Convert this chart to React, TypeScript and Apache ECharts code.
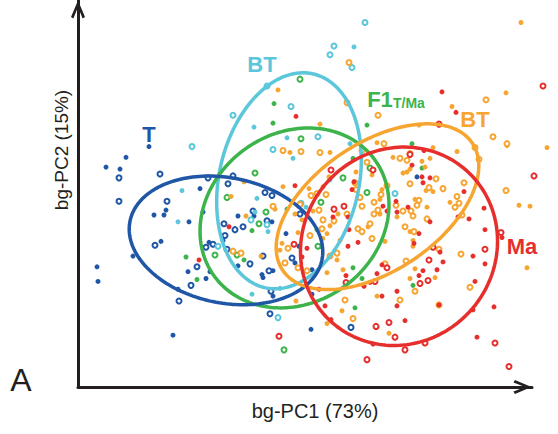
import React, { useEffect, useRef } from "react";
import * as echarts from "echarts";

// bg-PC scores (x = bg-PC1, y = bg-PC2)
const T_FILLED = [
  [-1.51, 1.09], [-1.74, 0.98], [-1.94, 0.88], [-1.8, 0.86], [-1.0, 0.66], [-1.34, 0.44], [-1.46, 0.39],
  [-1.36, 0.39], [-0.97, 0.42], [-1.11, 0.32], [-0.77, 0.13], [-1.39, 0.12], [-0.91, 0.11], [-1.67, -0.03],
  [-2.03, -0.14], [-1.12, -0.19], [-0.9, -0.19], [-2.02, -0.29], [-0.94, -0.26], [-1.22, -0.37], [-1.27, -0.84],
  [-0.37, -0.25], [-0.38, -0.22], [-0.27, -0.44], [0.12, -0.42], [0.11, -0.78], [1.17, 0.78], [-0.62, 0.38],
  [-0.46, 0.38], [-0.28, 0.32], [-0.14, 0.2], [-0.01, 0.07], [0.2, 0.07], [-0.62, -0.13], [-0.05, -0.1],
  [-0.27, -0.18], [0.12, -0.17],
];
const T_OPEN = [
  [-1.81, 0.77], [-1.4, 0.81], [-0.92, 0.77], [-0.72, 0.71], [-1.81, 0.53], [-1.33, 0.53], [-0.76, 0.3],
  [-0.75, 0.18], [-1.45, 0.08], [-0.87, 0.09], [-0.94, 0.06], [-0.73, 0.04], [-1.03, -0.14], [-1.09, -0.33],
  [-1.21, -0.49], [-0.29, -0.39], [-0.3, -0.62], [0.51, -0.76], [-0.67, 0.79], [-0.35, 0.62], [-0.28, 0.59],
  [-0.47, 0.43], [-0.33, 0.33], [0.0, 0.4], [-0.57, 0.27], [-0.65, 0.24], [-0.5, -0.11], [-0.37, -0.03],
  [-0.08, -0.05], [-0.31, -0.18],
];
const BT_FILLED = [
  [0.54, 2.11], [-0.46, 1.29], [-0.13, 1.18], [0.5, 1.12], [-1.18, 0.64], [-1.22, 0.32], [-0.48, -0.42],
  [-0.2, -0.36], [-0.07, 0.97], [0.3, 0.75], [-0.43, 0.56], [0.06, 0.47], [-0.32, 0.22], [-0.45, 0.42],
];
const BT_OPEN = [
  [0.65, 2.36], [0.34, 2.12], [0.3, 2.03], [0.52, 1.9], [-0.33, 1.71], [-0.09, 1.5], [-0.67, 1.41],
  [0.18, 1.19], [-1.08, 1.09], [-0.82, 0.07], [-0.22, -0.66], [-0.27, 1.06], [0.01, 0.51], [-0.49, 0.34],
  [-0.33, 0.29], [0.95, 0.61],
];
const F1_FILLED = [
  [-0.26, 1.53], [-0.27, 1.33], [0.67, 1.31], [1.12, 1.12], [-1.14, -0.04], [-1.03, -0.27], [0.55, -0.56],
  [0.62, -0.26], [1.13, -0.33], [1.22, 0.87], [0.53, 0.97], [-0.13, 0.45], [-0.48, 0.23], [0.17, 0.24],
  [-0.56, -0.07], [0.53, -0.15],
];
const F1_OPEN = [
  [0.0, 1.78], [0.01, 1.17], [-0.73, 0.57], [-0.85, -0.02], [-0.16, -0.99], [0.7, 0.87], [-0.45, 0.82],
  [0.43, 0.77], [0.67, 0.62], [0.21, 0.52], [-0.34, 0.42], [-0.41, 0.3], [0.18, 0.07], [-0.63, -0.02],
];
const BT2_FILLED = [
  [2.21, 2.36], [-0.22, 1.67], [0.2, 1.32], [0.77, 1.13], [2.06, 1.64], [1.52, 1.5], [1.19, 1.31],
  [0.93, 0.98], [1.33, 1.08], [1.57, 1.04], [2.47, 1.08], [2.07, 1.1], [1.22, 0.94], [1.3, 0.97],
  [1.25, 0.88], [1.03, 0.82], [1.07, 0.83], [1.1, 0.86], [1.26, 0.64], [1.33, 0.63], [1.15, 0.55],
  [1.5, 0.52], [1.27, 0.47], [2.19, 0.49], [2.3, 0.48], [0.97, 0.37], [1.1, 0.22], [1.13, 0.13],
  [1.13, 0.07], [2.27, -0.15], [1.15, -0.16], [-0.1, 1.03], [0.3, 1.03], [0.56, 0.83], [0.29, 0.78],
  [0.72, 0.8], [-0.56, 0.73], [-0.17, 0.68], [0.23, 0.68], [-0.69, 0.58], [0.09, 0.66], [0.82, 0.65],
  [0.8, 0.55], [-0.25, 0.45], [0.13, 0.43], [0.38, 0.4], [-0.54, 0.38], [-0.05, 0.4], [0.02, 0.34],
  [0.8, 0.4], [-0.02, 0.21], [0.27, 0.2], [0.68, 0.27], [0.3, 0.28], [0.85, 0.12], [0.23, 0.15],
  [-0.18, 0.1], [-0.2, 0.03], [0.4, 0.13], [0.37, -0.07], [0.43, -0.17], [0.27, -0.2], [-0.04, -0.49],
  [0.42, -0.59], [0.27, -0.72], [0.77, -0.76], [0.77, -0.44], [0.89, -0.82], [1.1, -0.26], [1.35, -0.25],
  [-0.39, -0.03],
];
const BT2_OPEN = [
  [0.49, 1.95], [0.47, 1.54], [0.78, 1.41], [0.84, 1.12], [1.86, 1.57], [1.93, 1.19], [2.07, 1.12],
  [1.0, 0.97], [1.07, 0.95], [1.1, 1.02], [1.75, 1.08], [1.79, 0.96], [1.36, 0.76], [1.1, 0.71],
  [1.64, 0.72], [1.29, 0.67], [1.43, 0.66], [2.06, 0.64], [1.57, 0.58], [1.19, 0.54], [1.59, 0.51],
  [1.17, 0.49], [0.96, 0.49], [1.55, 0.47], [1.03, 0.43], [1.11, 0.43], [1.13, 0.38], [1.62, 0.39],
  [1.27, 0.35], [1.05, 0.27], [1.14, 0.22], [1.39, 0.04], [1.61, -0.01], [1.06, -0.08], [-0.17, 1.05],
  [0.01, 1.04], [0.2, 1.03], [0.62, 1.05], [0.67, 0.93], [0.55, 0.72], [0.56, 0.65], [0.11, 0.59],
  [0.17, 0.61], [0.26, 0.6], [0.81, 0.6], [0.87, 0.69], [0.6, 0.57], [0.74, 0.52], [0.62, 0.48],
  [0.0, 0.5], [-0.27, 0.48], [0.19, 0.44], [0.47, 0.4], [0.23, 0.34], [0.34, 0.33], [0.58, 0.25],
  [0.7, 0.3], [0.78, 0.44], [0.74, 0.4], [0.22, 0.25], [0.62, 0.22], [0.72, 0.15], [0.1, 0.18],
  [-0.12, 0.05], [0.37, 0.0], [0.3, -0.03], [-0.67, 0.02], [-0.59, 0.0], [-0.15, -0.1], [-0.02, -0.15],
  [0.85, -0.11], [0.07, -0.18], [0.45, -0.48], [0.53, -0.67], [1.15, -0.39], [1.7, -0.35], [1.0, -0.48],
  [1.39, -0.53],
];
const MA_FILLED = [
  [-0.04, 1.4], [1.42, 1.65], [1.56, 1.44], [1.24, 1.05], [1.12, 0.9], [1.22, 0.78], [1.3, 0.77],
  [1.23, 0.72], [1.64, 0.63], [0.96, 0.53], [1.08, 0.47], [1.84, 0.46], [0.97, 0.42], [1.58, 0.37],
  [1.3, 0.32], [1.69, 0.35], [1.19, 0.2], [1.85, 0.24], [2.02, 0.16], [1.14, 0.1], [1.4, 0.01],
  [1.73, -0.03], [1.43, -0.09], [1.85, -0.11], [1.23, -0.18], [1.37, -0.17], [-0.71, 0.27], [-1.01, -0.07],
  [-0.05, 0.69], [0.54, 0.73], [0.52, 0.65], [0.83, 0.48], [0.87, 0.43], [0.48, 0.37], [0.33, 0.37],
  [0.49, 0.24], [0.58, 0.11], [0.07, 0.05], [0.48, 0.07], [0.02, -0.04], [0.82, -0.12], [0.19, -0.37],
  [0.25, -0.54], [0.31, -0.68], [0.73, -0.93], [0.82, -0.44], [0.77, -0.21], [0.7, -0.3], [0.64, -0.34],
  [0.46, -0.23], [1.19, -0.23], [0.97, -0.39], [1.75, -0.29], [0.97, -0.54], [1.39, -0.53], [1.73, -0.58],
  [1.94, -0.55], [1.05, -0.69], [1.77, -0.86],
];
const MA_OPEN = [
  [2.43, 1.71], [1.39, 1.32], [2.34, 0.79], [2.01, 0.21], [1.33, 0.06], [1.85, 0.04], [1.29, -0.07],
  [0.73, 0.85], [0.31, 0.85], [0.34, 0.45], [0.44, 0.48], [-0.06, 0.09], [0.87, -0.15], [0.75, -0.29],
  [0.46, -0.3], [0.76, -0.75], [0.89, -0.71], [-0.21, -0.85], [0.67, -1.09], [1.28, -0.28], [1.2, -0.31],
  [0.95, -0.86], [1.25, -0.92], [1.95, -0.92], [1.05, -0.99], [2.09, -1.16], [1.1, 1.01],
];

// 95% ellipse parameters per group: [cx, cy, semi-major, semi-minor, angle of major axis (deg)]
const GROUPS = ["T", "BT", "F1", "BT2", "Ma"];
const ELLIPSES: Record<string, number[]> = {
  T: [-0.74, 0.13, 0.98, 0.64, -12],
  BT: [-0.11, 0.74, 1.12, 0.7, 78],
  F1: [-0.055, 0.36, 1.0, 0.86, 40],
  BT2: [0.775, 0.475, 1.15, 0.65, 35],
  Ma: [0.99, 0.07, 1.03, 0.97, 60],
};
const COLORS: Record<string, string> = {
  T: "#1f56a6",
  BT: "#5cc6da",
  F1: "#3cb44b",
  BT2: "#f7a531",
  Ma: "#e62f2d",
};
const POINTS: Record<string, number[][][]> = {
  T: [T_FILLED, T_OPEN],
  BT: [BT_FILLED, BT_OPEN],
  F1: [F1_FILLED, F1_OPEN],
  BT2: [BT2_FILLED, BT2_OPEN],
  Ma: [MA_FILLED, MA_OPEN],
};
const X_RANGE = [-2.22, 2.32];
const Y_RANGE = [-1.37, 2.59];

function ellipse(p: number[]) {
  const [cx, cy, a, b, deg] = p;
  const r = (deg * Math.PI) / 180;
  const out: number[][] = [];
  for (let i = 0; i <= 180; i++) {
    const t = (i / 180) * Math.PI * 2;
    out.push([
      cx + a * Math.cos(t) * Math.cos(r) - b * Math.sin(t) * Math.sin(r),
      cy + a * Math.cos(t) * Math.sin(r) + b * Math.sin(t) * Math.cos(r),
    ]);
  }
  return out;
}

const FONT = '"Liberation Sans", Arial, Helvetica, sans-serif';
const AXIS_COLOR = "#231f20";
const CHEVRON = "path://M7,0 L14,16.6 L11.6,18 L7,6.4 L2.4,18 L0,16.6 Z";

export default function App() {
  const ref = useRef<HTMLDivElement>(null);
  useEffect(() => {
    if (!ref.current) return;
    const chart = echarts.init(ref.current, null, { renderer: "svg" });
    const series: any[] = [];
    GROUPS.forEach((g) => {
      const [filled, open] = POINTS[g];
      series.push({
        type: "scatter",
        name: g + " filled",
        data: filled,
        symbol: "circle",
        symbolSize: 5,
        clip: false,
        itemStyle: { color: COLORS[g], opacity: 1 },
        z: 2,
      });
      series.push({
        type: "scatter",
        name: g + " open",
        data: open,
        symbol: "circle",
        symbolSize: 5,
        clip: false,
        itemStyle: { color: "#ffffff", borderColor: COLORS[g], borderWidth: 2, opacity: 1 },
        z: 2,
      });
    });
    ["BT", "F1", "T", "BT2", "Ma"].forEach((g, i) => {
      series.push({
        type: "line",
        name: g + " ellipse",
        data: ellipse(ELLIPSES[g]),
        showSymbol: false,
        symbol: "none",
        smooth: false,
        silent: true,
        clip: false,
        lineStyle: { color: COLORS[g], width: 3.5 },
        z: 5 + i,
      });
    });

    const label = (text: string, x: number, y: number, color: string, size: number, weight = "bold", align = "center") => ({
      type: "text",
      x,
      y,
      z: 100,
      style: {
        text,
        font: `${weight} ${size}px ${FONT}`,
        fill: color,
        align,
        verticalAlign: "middle",
      },
    });

    chart.setOption({
      animation: false,
      backgroundColor: "#ffffff",
      grid: { left: 78, right: 26, top: -9, bottom: 47 },
      xAxis: {
        type: "value",
        min: X_RANGE[0],
        max: X_RANGE[1],
        axisLine: {
          show: true,
          onZero: false,
          symbol: ["none", CHEVRON],
          symbolSize: [14, 19],
          symbolOffset: [0, -9.5],
          lineStyle: { color: AXIS_COLOR, width: 3 },
        },
        axisTick: { show: false },
        axisLabel: { show: false },
        splitLine: { show: false },
      },
      yAxis: {
        type: "value",
        min: Y_RANGE[0],
        max: Y_RANGE[1],
        axisLine: {
          show: true,
          onZero: false,
          symbol: ["none", CHEVRON],
          symbolSize: [14, 19],
          symbolOffset: [0, -9.5],
          lineStyle: { color: AXIS_COLOR, width: 3 },
        },
        axisTick: { show: false },
        axisLabel: { show: false },
        splitLine: { show: false },
      },
      series,
      graphic: [
        label("T", 149, 134, COLORS.T, 22),
        label("BT", 262, 64, COLORS.BT, 22),
        label("F1", 380, 99, COLORS.F1, 22),
        label("T/Ma", 393, 103, COLORS.F1, 14, "bold", "left"),
        label("BT", 475, 119, COLORS.BT2, 22),
        label("Ma", 522, 246, COLORS.Ma, 22),
        label("A", 21, 380, AXIS_COLOR, 32, "normal"),
        label("bg-PC1 (73%)", 315, 411, AXIS_COLOR, 20, "normal"),
        {
          type: "text",
          x: 61,
          y: 150,
          rotation: Math.PI / 2,
          z: 100,
          style: {
            text: "bg-PC2 (15%)",
            font: `normal 19px ${FONT}`,
            fill: AXIS_COLOR,
            align: "center",
            verticalAlign: "middle",
          },
        },
      ],
    });
    return () => chart.dispose();
  }, []);
  return (
    <div
      ref={ref}
      style={{ position: "absolute", left: 0, top: 0, width: 558, height: 434 }}
    />
  );
}
